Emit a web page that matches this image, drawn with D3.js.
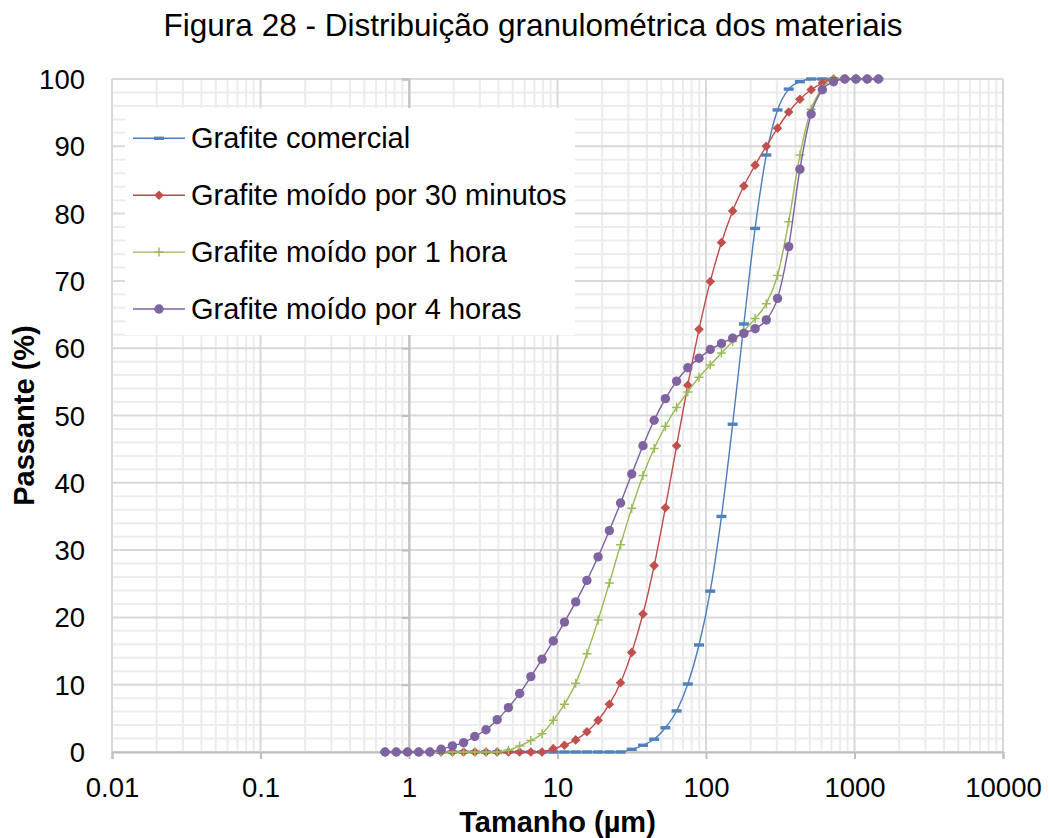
<!DOCTYPE html>
<html>
<head>
<meta charset="utf-8">
<script src="https://cdn.jsdelivr.net/npm/d3@7"></script>
<style>
  body { margin: 0; background: #fff; }
  svg { font-family: Arial, "Liberation Sans", sans-serif; }
</style>
</head>
<body>
<div id="chart"></div>
<script>
// particle size classes (µm)
const sizes = [0.690, 0.821, 0.977, 1.163, 1.384, 1.646, 1.959, 2.331, 2.773, 3.300,
  3.926, 4.672, 5.559, 6.614, 7.870, 9.365, 11.14, 13.26, 15.78, 18.77,
  22.34, 26.58, 31.62, 37.63, 44.77, 53.27, 63.39, 75.42, 89.74, 106.8,
  127.1, 151.2, 179.9, 214.1, 254.7, 303.1, 360.6, 429.1, 510.5, 607.5,
  722.8, 860.0, 1023, 1218, 1449];

// % passante acumulado
const comercial = [0, 0, 0, 0, 0, 0, 0, 0, 0, 0,
  0, 0, 0, 0, 0, 0, 0, 0, 0, 0,
  0, 0, 0.4, 1.0, 1.9, 3.6, 6.1, 10.1, 15.9, 23.9,
  35.0, 48.7, 63.6, 77.8, 88.7, 95.4, 98.5, 99.6, 100, 100,
  100, 100, 100, 100, 100];
const moido30min = [0, 0, 0, 0, 0, 0, 0, 0, 0, 0,
  0, 0, 0, 0, 0, 0.5, 1.0, 1.8, 3.0, 4.7,
  7.1, 10.3, 14.8, 20.5, 27.7, 36.3, 45.5, 54.5, 62.8, 69.9,
  75.7, 80.4, 84.1, 87.2, 90.0, 92.7, 95.1, 97.0, 98.4, 99.4,
  100, 100, 100, 100, 100];
const moido1h = [0, 0, 0, 0, 0, 0, 0, 0, 0, 0,
  0, 0.25, 0.9, 1.7, 2.7, 4.7, 7.1, 10.2, 14.6, 19.6,
  25.1, 30.8, 36.2, 41.1, 45.1, 48.4, 51.2, 53.5, 55.7, 57.5,
  59.3, 61.0, 62.6, 64.4, 66.6, 70.8, 78.8, 88.7, 95.5, 98.6,
  100, 100, 100, 100, 100];
const moido4h = [0, 0, 0, 0, 0, 0.4, 0.9, 1.4, 2.3, 3.3,
  4.8, 6.6, 8.7, 11.2, 13.8, 16.5, 19.3, 22.3, 25.5, 29.0,
  32.9, 37.0, 41.3, 45.5, 49.3, 52.5, 55.1, 57.1, 58.5, 59.8,
  60.7, 61.5, 62.2, 62.9, 64.2, 67.4, 75.1, 86.6, 94.8, 98.4,
  99.6, 100, 100, 100, 100];

const seriesNames = ['Grafite comercial', 'Grafite moído por 30 minutos', 'Grafite moído por 1 hora', 'Grafite moído por 4 horas'];
const xTicks = [0.01, 0.1, 1, 10, 100, 1000, 10000];
const yTicks = [0, 10, 20, 30, 40, 50, 60, 70, 80, 90, 100];

const width = 1049, height = 838;
const margin = { top: 79, right: 46, bottom: 86, left: 112 };

const svg = d3.select('#chart').append('svg')
  .attr('width', width)
  .attr('height', height);

const x = d3.scaleLog().domain([0.01, 10000]).range([margin.left, width - margin.right]);
const y = d3.scaleLinear().domain([0, 100]).range([height - margin.bottom, margin.top]);

// gridlines
const minorX = [];
xTicks.slice(0, -1).forEach(d => { for (let m = 2; m <= 9; m++) minorX.push(d * m); });
const minorY = d3.range(0, 101, 2).filter(v => v % 10 !== 0);

const grid = svg.append('g');
grid.selectAll('.mx').data(minorX).join('line')
  .attr('x1', d => x(d)).attr('x2', d => x(d))
  .attr('y1', y(0)).attr('y2', y(100))
  .attr('stroke', '#ececec').attr('stroke-width', 2);
grid.selectAll('.my').data(minorY).join('line')
  .attr('x1', x(0.01)).attr('x2', x(10000))
  .attr('y1', d => y(d)).attr('y2', d => y(d))
  .attr('stroke', '#ececec').attr('stroke-width', 2);
grid.selectAll('.gx').data(xTicks).join('line')
  .attr('x1', d => x(d)).attr('x2', d => x(d))
  .attr('y1', y(0)).attr('y2', y(100))
  .attr('stroke', '#d9d9d9').attr('stroke-width', 2);
grid.selectAll('.gy').data(yTicks).join('line')
  .attr('x1', x(0.01)).attr('x2', x(10000))
  .attr('y1', d => y(d)).attr('y2', d => y(d))
  .attr('stroke', '#d9d9d9').attr('stroke-width', 2);

// x axis
const xAxis = svg.append('g')
  .attr('transform', `translate(0,${y(0)})`)
  .call(d3.axisBottom(x).tickValues(xTicks).tickFormat(d3.format('~g')).tickSize(7).tickPadding(18));
xAxis.select('.domain').attr('stroke', '#bfbfbf').attr('stroke-width', 2);
xAxis.selectAll('.tick line').attr('stroke', '#bfbfbf').attr('stroke-width', 2);
xAxis.selectAll('text').attr('font-size', 27.5).attr('fill', '#000').attr('font-family', 'Arial, "Liberation Sans", sans-serif');

// y axis crosses at x = 1
const yAxis = svg.append('g')
  .attr('transform', `translate(${x(1)},0)`)
  .call(d3.axisLeft(y).tickValues(yTicks).tickFormat('').tickSize(7));
yAxis.select('.domain').attr('stroke', '#bfbfbf').attr('stroke-width', 2);
yAxis.selectAll('.tick line').attr('stroke', '#bfbfbf').attr('stroke-width', 2);

// y tick labels (low position)
svg.append('g').selectAll('text').data(yTicks).join('text')
  .attr('x', 85).attr('y', d => y(d) + 10)
  .attr('text-anchor', 'end')
  .attr('font-size', 27.5)
  .text(d => d);

// series
const colors = ['#4a7ebb', '#be4b48', '#98b954', '#7d60a0'];
const fills = ['#4f81bd', '#c0504d', '#9bbb59', '#8064a2'];
const allSeries = [comercial, moido30min, moido1h, moido4h];

const line = d3.line()
  .x(d => x(d[0]))
  .y(d => y(d[1]))
  .curve(d3.curveMonotoneX);

function drawMarker(g, type, cx, cy, i) {
  if (type === 0) {
    g.append('rect').attr('x', cx - 5).attr('y', cy - 1.7).attr('width', 10).attr('height', 3.4).attr('fill', fills[i]);
  } else if (type === 1) {
    g.append('path').attr('d', `M${cx},${cy - 4.8}L${cx + 4.8},${cy}L${cx},${cy + 4.8}L${cx - 4.8},${cy}Z`).attr('fill', fills[i]);
  } else if (type === 2) {
    g.append('path').attr('d', `M${cx - 4.5},${cy}H${cx + 4.5}M${cx},${cy - 4.5}V${cy + 4.5}`)
      .attr('stroke', fills[i]).attr('stroke-width', 1.5).attr('fill', 'none');
  } else {
    g.append('circle').attr('cx', cx).attr('cy', cy).attr('r', 4.7).attr('fill', fills[i]);
  }
}

allSeries.forEach((vals, i) => {
  const pts = sizes.map((s, k) => [s, vals[k]]);
  const g = svg.append('g');
  g.append('path')
    .attr('d', line(pts))
    .attr('fill', 'none')
    .attr('stroke', colors[i])
    .attr('stroke-width', 1.4);
  pts.forEach(p => drawMarker(g, i, x(p[0]), y(p[1]), i));
});

// legend
const legend = svg.append('g');
legend.append('rect')
  .attr('x', 125).attr('y', 108).attr('width', 450).attr('height', 227)
  .attr('fill', '#fff');
seriesNames.forEach((name, i) => {
  const ly = 138.3 + i * 56.9;
  legend.append('line')
    .attr('x1', 133).attr('x2', 185).attr('y1', ly).attr('y2', ly)
    .attr('stroke', colors[i]).attr('stroke-width', 1.4);
  drawMarker(legend, i, 159, ly, i);
  legend.append('text')
    .attr('x', 191).attr('y', ly + 10)
    .attr('font-size', 29)
    .text(name);
});

// titles
svg.append('text')
  .attr('x', 533).attr('y', 36)
  .attr('text-anchor', 'middle')
  .attr('font-size', 31.5)
  .text('Figura 28 - Distribuição granulométrica dos materiais');

svg.append('text')
  .attr('x', (x(0.01) + x(10000)) / 2).attr('y', 832)
  .attr('text-anchor', 'middle')
  .attr('font-size', 29).attr('font-weight', 'bold')
  .text('Tamanho (µm)');

svg.append('text')
  .attr('transform', `translate(34,${(y(0) + y(100)) / 2}) rotate(-90)`)
  .attr('text-anchor', 'middle')
  .attr('font-size', 29).attr('font-weight', 'bold')
  .text('Passante (%)');
</script>
</body>
</html>
